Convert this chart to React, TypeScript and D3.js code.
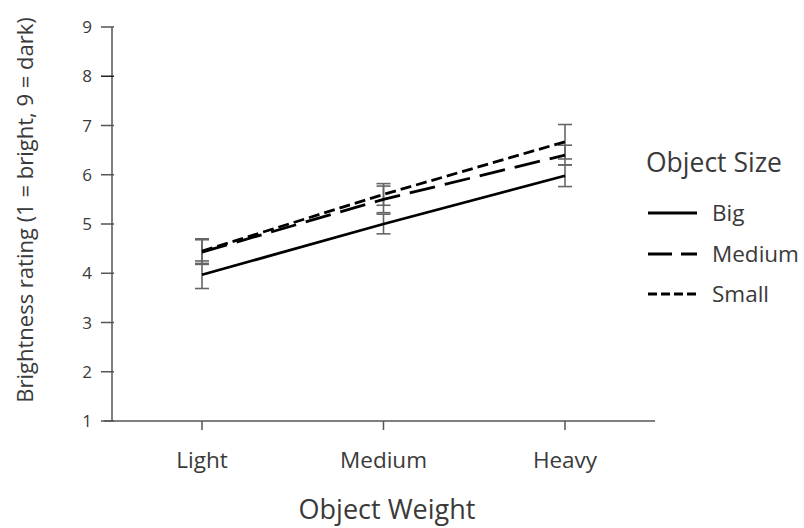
import React from "react";
import * as d3 from "d3";

const categories = ["Light", "Medium", "Heavy"];
const seriesNames = ["Big", "Medium", "Small"];
const bigValues = [3.97, 5.0, 5.98];
const bigErrors = [0.28, 0.2, 0.22];
const mediumValues = [4.43, 5.5, 6.4];
const mediumErrors = [0.25, 0.27, 0.2];
const smallValues = [4.45, 5.6, 6.67];
const smallErrors = [0.25, 0.22, 0.35];
const yTicks = [1, 2, 3, 4, 5, 6, 7, 8, 9];

const series = [
  { name: seriesNames[0], values: bigValues, errors: bigErrors, dash: "none" },
  { name: seriesNames[1], values: mediumValues, errors: mediumErrors, dash: "26,10" },
  { name: seriesNames[2], values: smallValues, errors: smallErrors, dash: "11,5" },
];

const FONT = "'Open Sans', 'Noto Sans', sans-serif";
const TXT = "#3a3a3a";

export default function App() {
  const W = 804, H = 528;
  const x0 = 112, x1 = 655;
  const y = d3.scaleLinear().domain([1, 9]).range([421, 27]);
  const x = d3.scalePoint().domain(categories).range([202, 565]);
  const line = d3.line<number>().x((_, i) => x(categories[i]) as number).y((v) => y(v));
  const legendYs = [213, 254, 294];

  return (
    <svg width={W} height={H} style={{ position: "absolute", left: 0, top: 0, background: "#fff" }}>
      {/* Axes */}
      <line x1={x0} y1={y(9)} x2={x0} y2={y(1)} stroke="#555" strokeWidth={1.5} />
      <line x1={x0 - 8} y1={y(1)} x2={x1} y2={y(1)} stroke="#555" strokeWidth={1.5} />
      {yTicks.map((t) => (
        <g key={t}>
          <line x1={x0 - 11} x2={x0 + 2} y1={y(t)} y2={y(t)} stroke={t === 8 ? "#222" : "#555"} strokeWidth={1.5} />
          <text x={92} y={y(t)} dy="0.36em" textAnchor="end" fontFamily={FONT} fontSize={17} fill={TXT}>{t}</text>
        </g>
      ))}
      {categories.map((c) => (
        <g key={c}>
          <line x1={x(c)} x2={x(c)} y1={y(1)} y2={y(1) + 9} stroke="#555" strokeWidth={1.5} />
          <text x={x(c)} y={468} textAnchor="middle" fontFamily={FONT} fontSize={22.5} fill={TXT}>{c}</text>
        </g>
      ))}
      <text x={387} y={519} textAnchor="middle" fontFamily={FONT} fontSize={27} fill={TXT}>Object Weight</text>
      <text transform={`translate(33,210) rotate(-90)`} textAnchor="middle" fontFamily={FONT} fontSize={22} fill={TXT}>
        Brightness rating (1 = bright, 9 = dark)
      </text>

      {/* Error bars */}
      {series.map((s) =>
        s.values.map((v, i) => {
          const cx = x(categories[i]) as number;
          const top = y(v + s.errors[i]);
          const bot = y(v - s.errors[i]);
          return (
            <g key={s.name + i} stroke="#666" strokeWidth={1.6}>
              <line x1={cx} x2={cx} y1={top} y2={bot} />
              <line x1={cx - 7} x2={cx + 7} y1={top} y2={top} />
              <line x1={cx - 7} x2={cx + 7} y1={bot} y2={bot} />
            </g>
          );
        })
      )}

      {/* Lines */}
      {series.map((s) => (
        <path key={s.name} d={line(s.values) || ""} fill="none" stroke="#000" strokeWidth={2.8} strokeDasharray={s.dash} />
      ))}

      {/* Legend */}
      <text x={646} y={172} fontFamily={FONT} fontSize={26.5} fill={TXT}>Object Size</text>
      {series.map((s, i) => (
        <g key={s.name}>
          <line x1={648} x2={697} y1={legendYs[i]} y2={legendYs[i]} stroke="#000" strokeWidth={3.2}
            strokeDasharray={i === 1 ? "24,9" : i === 2 ? "9,4" : "none"} />
          <text x={712} y={legendYs[i]} dy="0.36em" fontFamily={FONT} fontSize={22.5} fill={TXT}>{s.name}</text>
        </g>
      ))}
    </svg>
  );
}
